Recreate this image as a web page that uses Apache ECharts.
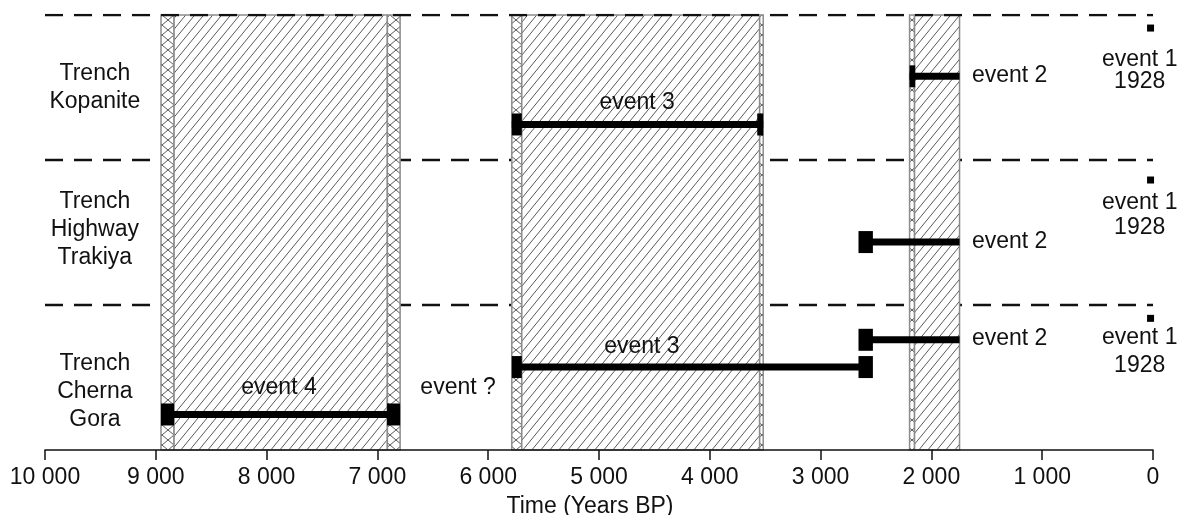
<!DOCTYPE html>
<html><head><meta charset="utf-8">
<script src="https://cdn.jsdelivr.net/npm/echarts@6/dist/echarts.min.js"></script>
<style>html,body{margin:0;padding:0;background:#fff}#c{width:1179px;height:515px}</style>
</head><body><div id="c"></div>
<script>
// ---------------- DATA ----------------
const xMin = 0, xMax = 10000, xInterval = 1000;      // years BP
const laneCount = 3;                                  // rows (bottom -> top)
const rowNames = ['Trench\nCherna\nGora', 'Trench\nHighway\nTrakiya', 'Trench\nKopanite'];
const rowLabelX = [9550, 9550, 9550];
const rowLabelY = [0.40, 1.52, 2.50];
// hatched time windows: [fromBP, toBP, kind]
const hatchZones = [
  [8953, 8835, 'cross'], [8835, 6910, 'diag'], [6910, 6795, 'cross'],
  [5787, 5697, 'cross'], [5697, 3550, 'diag'], [3550, 3518, 'cross'],
  [2197, 2152, 'cross'], [2152, 1746, 'diag']
];
// event bars: [fromBP, toBP, lane position]
const eventBars = [
  [5787, 3518, 2.245], [2197, 1746, 2.577],
  [2593, 1746, 1.434],
  [2593, 1746, 0.760], [5742, 2593, 0.572], [8894, 6854, 0.245]
];
// bar end caps (uncertainty): [fromBP, toBP, lane position]
const eventCaps = [
  [5787, 5697, 2.245], [3572, 3518, 2.245],
  [2197, 2146, 2.577],
  [2658, 2528, 1.434],
  [2658, 2528, 0.760],
  [5787, 5697, 0.572], [2658, 2528, 0.572],
  [8953, 8835, 0.245], [6913, 6795, 0.245]
];
// event 1 (1928 AD -> years BP)
const event1Year = 1928;
const event1BP = 1950 - event1Year;
const event1Lanes = [2.910, 1.862, 0.908];
// annotations: [xBP, lane position, text, align]
const labelX = [4656, 1634, 120, 120, 1634, 120, 120, 1634, 120, 120, 4613, 7888, 6272];
const labelY = [2.393, 2.580, 2.690, 2.541, 1.434, 1.703, 1.531, 0.765, 0.772, 0.581, 0.712, 0.428, 0.428];
const labelText = ['event 3', 'event 2', 'event 1', '1928', 'event 2', 'event 1', '1928', 'event 2', 'event 1', '1928', 'event 3', 'event 4', 'event ?'];
const labelAlign = ['center', 'left', 'center', 'center', 'left', 'center', 'center', 'left', 'center', 'center', 'center', 'center', 'center'];
const axisTitle = 'Time (Years BP)';

// ---------------- STYLE ----------------
const FONT = '"Liberation Sans", Arial, sans-serif';
const FS = 23;
const INK = '#111';

function makeDiag() {
  const w = 9, h = 11;
  const c = document.createElement('canvas'); c.width = w; c.height = h;
  const g = c.getContext('2d');
  g.fillStyle = '#fff'; g.fillRect(0, 0, w, h);
  g.strokeStyle = '#5a5a5a'; g.lineWidth = 1;
  g.beginPath();
  for (const o of [-w, 0, w]) { g.moveTo(o, h); g.lineTo(o + w, 0); }
  g.stroke();
  return c;
}
function makeCross() {
  const w = 12, h = 10;
  const c = document.createElement('canvas'); c.width = w; c.height = h;
  const g = c.getContext('2d');
  g.fillStyle = '#fff'; g.fillRect(0, 0, w, h);
  g.strokeStyle = '#5a5a5a'; g.lineWidth = 1;
  g.beginPath();
  for (const o of [-w, 0, w]) {
    g.moveTo(o, 0); g.lineTo(o + w, h);
    g.moveTo(o, h); g.lineTo(o + w, 0);
  }
  g.stroke();
  return c;
}
const diagImg = makeDiag(), crossImg = makeCross();

function fmtTick(v) {
  if (v >= 1000) return Math.floor(v / 1000) + ' ' + String(v % 1000).padStart(3, '0');
  return String(v);
}

const chart = echarts.init(document.getElementById('c'), null, { renderer: 'canvas' });

const boundaries = [];
for (let i = 1; i <= laneCount; i++) boundaries.push(i);

const series = [];
boundaries.forEach(b => {
  series.push({
    type: 'line', silent: true, symbol: 'none', animation: false,
    data: [[xMax, b], [xMin, b]],
    lineStyle: { color: INK, width: 2.5, type: [18, 11] },
    z: b === laneCount ? 6 : 1
  });
});
series.push({
  type: 'custom', silent: true, animation: false, z: 3,
  data: hatchZones.map(z => [z[0], z[1]]),
  encode: { x: [0, 1] },
  renderItem: (params, api) => {
    const z = hatchZones[params.dataIndex];
    const p1 = api.coord([z[0], laneCount]);
    const p2 = api.coord([z[1], 0]);
    return {
      type: 'rect',
      shape: { x: Math.min(p1[0], p2[0]), y: p1[1], width: Math.abs(p2[0] - p1[0]), height: p2[1] - p1[1] },
      style: { fill: { image: z[2] === 'cross' ? crossImg : diagImg, repeat: 'repeat' }, stroke: '#8c8c8c', lineWidth: 1.5 }
    };
  }
});
series.push({
  type: 'custom', silent: true, animation: false, z: 8,
  data: eventBars,
  encode: { x: [0, 1], y: 2 },
  renderItem: (params, api) => {
    const a = api.coord([api.value(0), api.value(2)]);
    const b = api.coord([api.value(1), api.value(2)]);
    const th = 7;
    return { type: 'rect', shape: { x: Math.min(a[0], b[0]), y: a[1] - th / 2, width: Math.abs(b[0] - a[0]), height: th }, style: { fill: '#000' } };
  }
});
series.push({
  type: 'custom', silent: true, animation: false, z: 9,
  data: eventCaps,
  encode: { x: [0, 1], y: 2 },
  renderItem: (params, api) => {
    const a = api.coord([api.value(0), api.value(2)]);
    const b = api.coord([api.value(1), api.value(2)]);
    const hh = 22;
    return { type: 'rect', shape: { x: Math.min(a[0], b[0]), y: a[1] - hh / 2, width: Math.abs(b[0] - a[0]), height: hh }, style: { fill: '#000' } };
  }
});
series.push({
  type: 'scatter', silent: true, animation: false, z: 9,
  symbol: 'rect', symbolSize: 7, itemStyle: { color: '#000', opacity: 1 },
  data: event1Lanes.map(y => [event1BP, y])
});
series.push({
  type: 'custom', silent: true, animation: false, z: 10,
  data: labelX.map((x, i) => [x, labelY[i]]),
  encode: { x: 0, y: 1 },
  renderItem: (params, api) => {
    const i = params.dataIndex;
    const p = api.coord([api.value(0), api.value(1)]);
    return {
      type: 'text', x: p[0], y: p[1],
      style: { text: labelText[i], fill: INK, font: FS + 'px ' + FONT, align: labelAlign[i], verticalAlign: 'middle' }
    };
  }
});
series.push({
  type: 'custom', silent: true, animation: false, z: 10,
  data: rowLabelX.map((x, i) => [x, rowLabelY[i]]),
  encode: { x: 0, y: 1 },
  renderItem: (params, api) => {
    const i = params.dataIndex;
    const p = api.coord([api.value(0), api.value(1)]);
    return {
      type: 'text', x: p[0], y: p[1],
      style: { text: rowNames[i], fill: INK, font: FS + 'px ' + FONT, lineHeight: 28, align: 'center', verticalAlign: 'middle' }
    };
  }
});

chart.setOption({
  animation: false,
  backgroundColor: '#fff',
  grid: { left: 45, right: 26, top: 15, bottom: 65, containLabel: false, outerBoundsMode: 'none' },
  xAxis: {
    type: 'value', min: xMin, max: xMax, interval: xInterval, inverse: true, z: 12,
    axisLine: { show: true, onZero: false, lineStyle: { color: INK, width: 1.5 } },
    axisTick: { show: true, length: 10, lineStyle: { color: INK, width: 1.5 } },
    axisLabel: { fontSize: FS, color: INK, fontFamily: FONT, margin: 16, formatter: fmtTick, showMinLabel: true, showMaxLabel: true },
    splitLine: { show: false },
    name: axisTitle, nameLocation: 'middle', nameGap: 45,
    nameTextStyle: { fontSize: FS, color: INK, fontFamily: FONT, padding: [0, 18, 0, 0] }
  },
  yAxis: { type: 'value', min: 0, max: laneCount, show: false, splitLine: { show: false } },
  series: series
});
</script>
</body></html>
